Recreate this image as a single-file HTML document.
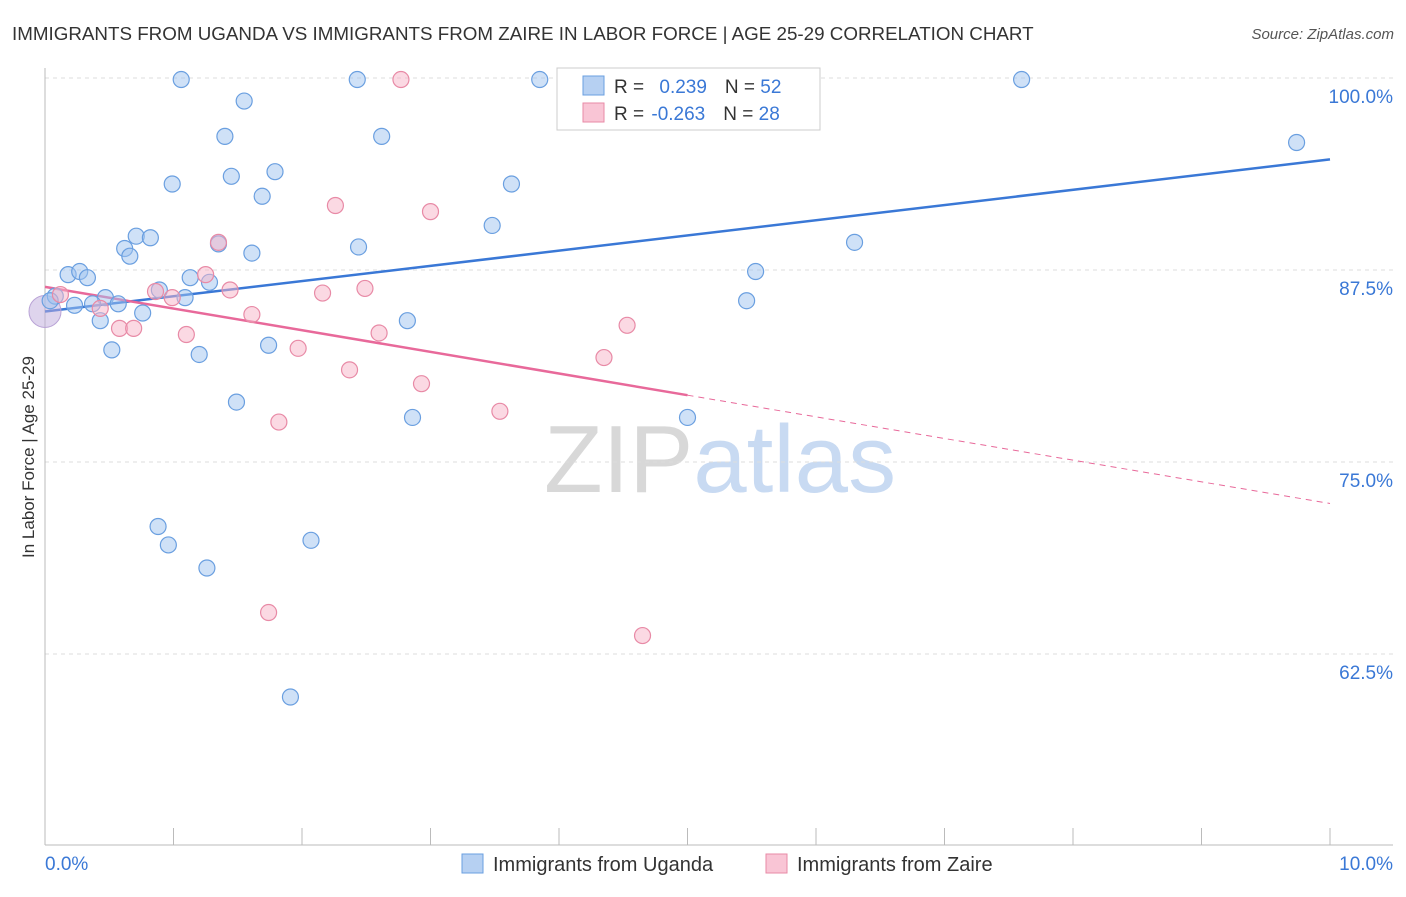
<!DOCTYPE html>
<html><head><meta charset="utf-8"><style>
body{margin:0;background:#fff;font-family:"Liberation Sans",sans-serif;}
svg text{font-family:"Liberation Sans",sans-serif;}
</style></head><body>
<svg id="chart" width="1406" height="892">
<text x="12" y="40" font-size="18.8" fill="#333">IMMIGRANTS FROM UGANDA VS IMMIGRANTS FROM ZAIRE IN LABOR FORCE | AGE 25-29 CORRELATION CHART</text>
<text x="1394" y="39" font-size="15" fill="#555" text-anchor="end" font-style="italic">Source: ZipAtlas.com</text>
<text x="720" y="492" font-size="96" fill="#ddd" text-anchor="middle" font-family="Liberation Serif"><tspan fill="#d8d8d8">ZIP</tspan><tspan fill="#c8daf2" font-family="Liberation Sans">atlas</tspan></text>
<text x="34" y="457" font-size="17" fill="#333" text-anchor="middle" transform="rotate(-90 34 457)">In Labor Force | Age 25-29</text>
<g id="grid"></g><g id="axes"></g><g id="lines"></g><g id="pts"></g>
<g>
<rect x="557" y="68" width="263" height="62" fill="#fff" stroke="#ccc"/>
<rect x="583" y="76" width="21" height="19" fill="#b6d0f2" stroke="#6a9fe0"/>
<rect x="583" y="103" width="21" height="19" fill="#f9c5d5" stroke="#e88aa6"/>
<text x="614" y="93" font-size="19" fill="#333">R = <tspan fill="#3a78d6" dx="10">0.239</tspan><tspan dx="18" fill="#333">N = </tspan><tspan fill="#3a78d6">52</tspan></text>
<text x="614" y="120" font-size="19" fill="#333">R = <tspan fill="#3a78d6" dx="2">-0.263</tspan><tspan dx="18" fill="#333">N = </tspan><tspan fill="#3a78d6">28</tspan></text>
</g>
<g>
<rect x="462" y="854" width="21" height="19" fill="#b6d0f2" stroke="#6a9fe0"/>
<text x="493" y="871" font-size="20" fill="#333">Immigrants from Uganda</text>
<rect x="766" y="854" width="21" height="19" fill="#f9c5d5" stroke="#e88aa6"/>
<text x="797" y="871" font-size="20" fill="#333">Immigrants from Zaire</text>
</g>
<text x="45" y="870" font-size="19" fill="#3a78d6">0.0%</text>
<text x="1393" y="870" font-size="19" fill="#3a78d6" text-anchor="end">10.0%</text>
</svg>
<script>
const ugandaX=[1.06,2.43,3.85,7.60,1.55,1.40,2.62,9.74,1.79,1.45,0.99,3.63,1.69,3.48,0.71,0.82,0.62,2.44,1.35,1.61,0.66,6.30,0.18,0.27,0.33,5.53,1.13,1.28,0.89,0.08,0.47,1.09,5.46,0.23,0.37,0.57,0.76,0.43,2.82,0.52,1.20,1.74,1.49,2.86,5.00,0.88,0.96,2.07,1.26,1.91,0.04];
const ugandaY=[99.9,99.9,99.9,99.9,98.5,96.2,96.2,95.8,93.9,93.6,93.1,93.1,92.3,90.4,89.7,89.6,88.9,89.0,89.2,88.6,88.4,89.3,87.2,87.4,87.0,87.4,87.0,86.7,86.2,85.8,85.7,85.7,85.5,85.2,85.3,85.3,84.7,84.2,84.2,82.3,82.0,82.6,78.9,77.9,77.9,70.8,69.6,69.9,68.1,59.7,85.5];
const zaireX=[2.77,2.26,3.00,1.35,1.25,1.44,0.86,0.99,2.16,2.49,0.12,0.43,0.58,0.69,1.10,1.61,1.97,2.60,4.53,4.35,2.37,2.93,3.54,1.82,1.74,4.65];
const zaireY=[99.9,91.7,91.3,89.3,87.2,86.2,86.1,85.7,86.0,86.3,85.9,85.0,83.7,83.7,83.3,84.6,82.4,83.4,83.9,81.8,81.0,80.1,78.3,77.6,65.2,63.7];
const ugandaTrend=[84.8,94.7];
const zaireTrend=[86.4,72.3];
const yTicks=[100,87.5,75,62.5];
const yTickLabels=["100.0%","87.5%","75.0%","62.5%"];
const xTicks=[0,1,2,3,4,5,6,7,8,9,10];
const NS="http://www.w3.org/2000/svg";
const sx=v=>45+v*128.5, sy=v=>78+(100-v)*15.36;
function mk(t,a,p){const e=document.createElementNS(NS,t);for(const k in a)e.setAttribute(k,a[k]);document.getElementById(p).appendChild(e);return e;}
yTicks.forEach((t,i)=>{
 const l=mk('line',{x1:45,x2:1393,y1:sy(t),y2:sy(t),stroke:'#ddd','stroke-dasharray':'4,4'},'grid');
 
 
 const tx=mk('text',{x:1393,y:sy(t)+25,'font-size':19,fill:'#3a78d6','text-anchor':'end'},'grid');
 tx.textContent=yTickLabels[i];
 
 
});
let a=mk('line',{x1:45,x2:45,y1:68,y2:845,stroke:'#bbb'},'axes');


a=mk('line',{x1:45,x2:1393,y1:845,y2:845,stroke:'#bbb'},'axes');


xTicks.forEach(t=>{const l=mk('line',{x1:sx(t),x2:sx(t),y1:828,y2:845,stroke:'#bbb'},'axes');
 
 });
let ln=mk('line',{x1:sx(0),y1:sy(ugandaTrend[0]),x2:sx(10),y2:sy(ugandaTrend[1]),stroke:'#3a78d6','stroke-width':2.5},'lines');


const zmid=zaireTrend[0]+(zaireTrend[1]-zaireTrend[0])*0.5;
ln=mk('line',{x1:sx(0),y1:sy(zaireTrend[0]),x2:sx(5),y2:sy(zmid),stroke:'#e8699a','stroke-width':2.5},'lines');


ln=mk('line',{x1:sx(5),y1:sy(zmid),x2:sx(10),y2:sy(zaireTrend[1]),stroke:'#e8699a','stroke-width':1,'stroke-dasharray':'6,5'},'lines');


let c=mk('circle',{cx:sx(0),cy:sy(84.8),r:16,fill:'rgba(190,170,220,0.5)',stroke:'#b9a3d6'},'pts');


ugandaX.forEach((x,i)=>{const p=mk('circle',{cx:sx(x),cy:sy(ugandaY[i]),r:8,fill:'rgba(160,195,240,0.5)',stroke:'#6a9fe0','stroke-width':1.2},'pts');
 
 });
zaireX.forEach((x,i)=>{const p=mk('circle',{cx:sx(x),cy:sy(zaireY[i]),r:8,fill:'rgba(247,180,200,0.5)',stroke:'#e88aa6','stroke-width':1.2},'pts');
 
 });
</script>
</body></html>
